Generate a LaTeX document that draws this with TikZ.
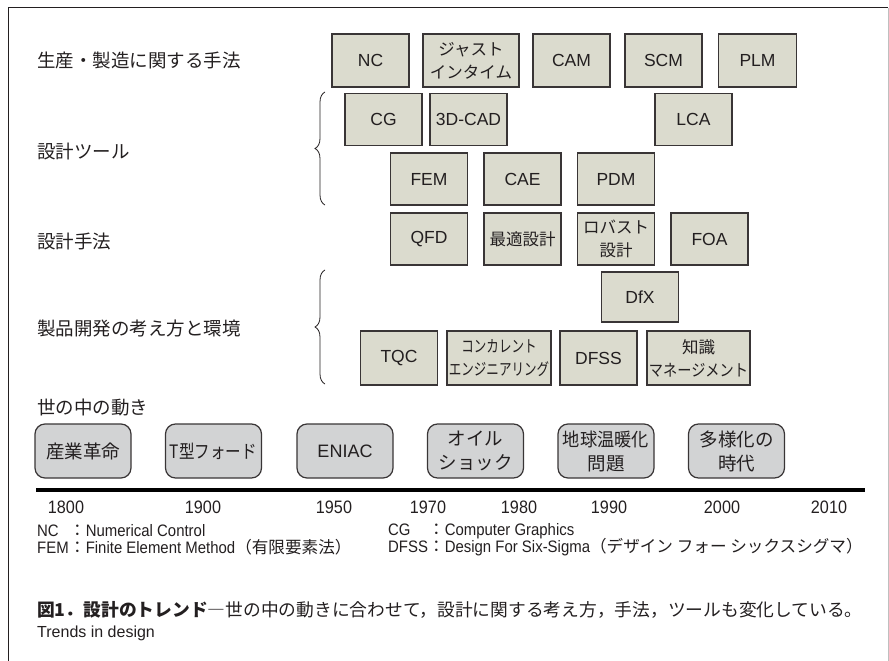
\documentclass[tikz,border=0pt]{standalone}
\usepackage{fontspec}
\setmainfont{Liberation Sans}
\newfontfamily\jp{Noto Sans CJK JP}
\newfontfamily\cond[FakeStretch=0.9]{Liberation Sans}
\usetikzlibrary{decorations.pathreplacing}
\definecolor{boxfill}{RGB}{219,219,206}
\definecolor{rboxfill}{RGB}{210,211,212}
\definecolor{ink}{RGB}{35,31,32}
\newcommand{\sq}[2]{\scalebox{#1}[1]{#2}}
\begin{document}
\begin{tikzpicture}[x=1pt,y=-1pt,
  bx/.style={draw=ink!90, fill=boxfill, line width=1.2pt, inner sep=0pt, align=center, text=ink,
     font=\fontsize{17.5}{20}\selectfont},
  jbx/.style={bx, font=\jp\fontsize{16.5}{23}\selectfont},
  rbx/.style={draw=ink!90, fill=rboxfill, line width=1.2pt, rounded corners=10pt, inner sep=0pt,
     align=center, text=ink, minimum width=96, minimum height=54, font=\jp\fontsize{18.5}{24}\selectfont},
  cat/.style={anchor=west, inner sep=0pt, text=ink, font=\jp\fontsize{18.5}{22}\selectfont},
  yr/.style={inner sep=0pt, text=ink, font=\cond\fontsize{18}{20}\selectfont},
  fn/.style={anchor=west, inner sep=0pt, text=ink, font=\cond\fontsize{16.6}{18}\selectfont},
  brc/.style={draw=ink, line width=0.8pt, decorate, decoration={brace, amplitude=10pt}}
]
\useasboundingbox (0,0) rectangle (889,661);
% frame
\coordinate (fbl) at (8,661);
\coordinate (ftl) at (8,8);
\coordinate (ftr) at (888,8);
\coordinate (fbr) at (888,661);
\draw[ink, line width=1pt] (fbl) -- (ftl) -- (ftr);
\draw[black!25, line width=0.8pt] (ftr) -- (fbr);

% category labels
\node[cat] (c1) at (37,60) {生産・製造に関する手法};
\node[cat] (c2) at (37,151) {設計ツール};
\node[cat] (c3) at (37,241) {設計手法};
\node[cat] (c4) at (37,328) {製品開発の考え方と環境};
\node[cat] (c5) at (37,408) {世の中の動き};

% row 1
\node[bx, minimum width=77, minimum height=53] (nc) at (370.5,60.5) {NC};
\node[jbx, minimum width=96, minimum height=53] (jit) at (471,60.5) {ジャスト\\インタイム};
\node[bx, minimum width=77, minimum height=53] (cam) at (571.5,60.5) {CAM};
\node[bx, minimum width=77, minimum height=53] (scm) at (663.5,60.5) {SCM};
\node[bx, minimum width=78, minimum height=53] (plm) at (757.5,60.5) {PLM};

% braces
\coordinate (b1b) at (325,205);
\coordinate (b1t) at (325,92);
\draw[brc] (b1b) -- (b1t);
\coordinate (b2b) at (325,384);
\coordinate (b2t) at (325,270);
\draw[brc] (b2b) -- (b2t);

% row 2
\node[bx, minimum width=77, minimum height=52] (cg) at (383.5,119.5) {CG};
\node[bx, minimum width=77, minimum height=52] (cad) at (468.5,119.5) {3D-CAD};
\node[bx, minimum width=77, minimum height=52] (lca) at (693.5,119.5) {LCA};

% row 3
\node[bx, minimum width=77, minimum height=52] (fem) at (429,179) {FEM};
\node[bx, minimum width=77, minimum height=52] (cae) at (522.5,179) {CAE};
\node[bx, minimum width=77, minimum height=52] (pdm) at (616,179) {PDM};

% row 4
\node[bx, minimum width=77, minimum height=52] (qfd) at (429,239) {QFD};
\node[jbx, minimum width=77, minimum height=52] (opt) at (522.5,239) {最適設計};
\node[jbx, minimum width=77, minimum height=52] (rob) at (616,239) {ロバスト\\設計};
\node[bx, minimum width=77, minimum height=52] (foa) at (709.5,239) {FOA};

% DfX
\node[bx, minimum width=77, minimum height=50] (dfx) at (640,297) {DfX};

% row 5
\node[bx, minimum width=77, minimum height=54] (tqc) at (399,358) {TQC};
\node[jbx, minimum width=104, minimum height=54] (ce) at (499,358) {\sq{0.76}{コンカレント}\\\sq{0.76}{エンジニアリング}};
\node[bx, minimum width=77, minimum height=54] (dfss) at (598.5,358) {DFSS};
\node[jbx, minimum width=103, minimum height=54] (km) at (698.5,358) {知識\\\sq{0.86}{マネージメント}};

% world events
\node[rbx] (e1) at (83,451) {産業革命};
\node[rbx] (e2) at (213.5,451) {\sq{0.84}{T型フォード}};
\node[rbx, font=\fontsize{18}{22}\selectfont] (e3) at (345,451) {ENIAC};
\node[rbx] (e4) at (475.5,451) {オイル\\ショック};
\node[rbx] (e5) at (606,451) {\sq{0.93}{地球温暖化}\\問題};
\node[rbx] (e6) at (736.5,451) {多様化の\\時代};

% timeline
\coordinate (tl) at (36,490);
\coordinate (tr) at (865,490);
\draw[black, line width=3.5pt] (tl) -- (tr);

\node[yr] (y1) at (66,507) {1800};
\node[yr] (y2) at (203,507) {1900};
\node[yr] (y3) at (334,507) {1950};
\node[yr] (y4) at (428,507) {1970};
\node[yr] (y5) at (519,507) {1980};
\node[yr] (y6) at (609,507) {1990};
\node[yr] (y7) at (722,507) {2000};
\node[yr] (y8) at (829,507) {2010};

% footnotes
\node[fn] (f1) at (37,531) {\makebox[32pt][l]{NC}{\jp ：}Numerical Control};
\node[fn] (f2) at (37,547) {\makebox[32pt][l]{FEM}{\jp ：}Finite Element Method{\jp （有限要素法）}};
\node[fn] (f3) at (388,531) {\makebox[40pt][l]{CG}{\jp ：}Computer Graphics};
\node[fn] (f4) at (388,547) {\makebox[40pt][l]{DFSS}{\jp ：}Design For Six-Sigma{\jp （デザイン フォー シックスシグマ）}};

% caption
\node[anchor=west, inner sep=0pt, text=ink, font=\jp\fontsize{17.75}{20}\selectfont] (cap) at (37,610)
  {{\bfseries 図1．設計のトレンド}―世の中の動きに合わせて，設計に関する考え方，手法，ツールも変化している。};
\node[anchor=west, inner sep=0pt, text=ink, font=\fontsize{16}{18}\selectfont] (cap2) at (37,633) {Trends in design};
\end{tikzpicture}
\end{document}
